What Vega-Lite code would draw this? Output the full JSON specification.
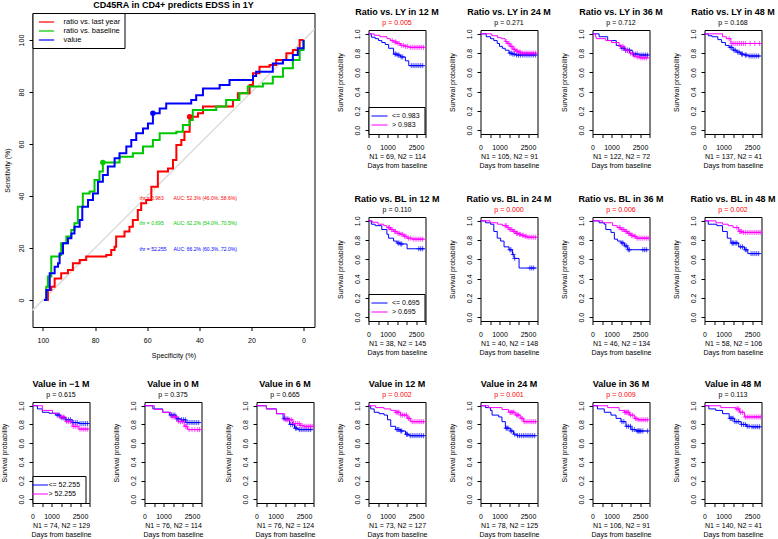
{
"$schema": "https://vega.github.io/schema/vega-lite/v6.json",
"background": "white",
"padding": {"left": -0.5, "top": 0, "right": 2, "bottom": 2},
"config": {
  "font": "Liberation Sans",
  "view": {"stroke": null},
  "axis": {"labelFontSize": 7, "titleFontSize": 7, "titleFontWeight": "normal", "grid": false, "domain": false, "ticks": true, "tickColor": "black", "tickSize": 3.5, "tickWidth": 1, "labelColor": "black", "titleColor": "black", "labelFlush": false, "labelOverlap": false},
  "axisX": {"labelPadding": 6, "titlePadding": 2, "titleLineHeight": 9.3, "labelBaseline": "top"},
  "axisY": {"labelAngle": 270, "labelAlign": "center", "labelBaseline": "bottom", "labelPadding": 5, "titlePadding": 10},
  "title": {"fontSize": 9, "fontWeight": "bold", "color": "black", "frame": "group", "anchor": "middle", "offset": 3, "subtitleFontSize": 7, "subtitleColor": "black", "subtitlePadding": 1.5},
  "legend": {"labelColor": "black", "labelFont": "Liberation Sans"}
},
"datasets": {
"roc": [
{"series":"ratio vs. last year","spec":98.7,"sens":0},{"series":"ratio vs. last year","spec":98.1,"sens":3.8},{"series":"ratio vs. last year","spec":96.8,"sens":5.1},{"series":"ratio vs. last year","spec":95.5,"sens":8.3},{"series":"ratio vs. last year","spec":93,"sens":10.3},{"series":"ratio vs. last year","spec":90.4,"sens":11.5},{"series":"ratio vs. last year","spec":88.5,"sens":14.1},{"series":"ratio vs. last year","spec":85.9,"sens":15.4},{"series":"ratio vs. last year","spec":83.4,"sens":16.7},{"series":"ratio vs. last year","spec":79.5,"sens":16.7},{"series":"ratio vs. last year","spec":75.7,"sens":17.3},{"series":"ratio vs. last year","spec":73.8,"sens":19.2},{"series":"ratio vs. last year","spec":72.5,"sens":20.5},{"series":"ratio vs. last year","spec":71.9,"sens":24.4},{"series":"ratio vs. last year","spec":68.7,"sens":26.3},{"series":"ratio vs. last year","spec":66.8,"sens":28.2},{"series":"ratio vs. last year","spec":65.5,"sens":30.8},{"series":"ratio vs. last year","spec":63.6,"sens":34.6},{"series":"ratio vs. last year","spec":62.3,"sens":37.2},{"series":"ratio vs. last year","spec":60.4,"sens":38.5},{"series":"ratio vs. last year","spec":58.4,"sens":43.6},{"series":"ratio vs. last year","spec":55.9,"sens":49.4},{"series":"ratio vs. last year","spec":52,"sens":50.6},{"series":"ratio vs. last year","spec":50.1,"sens":53.8},{"series":"ratio vs. last year","spec":48.8,"sens":59.6},{"series":"ratio vs. last year","spec":46.9,"sens":61.5},{"series":"ratio vs. last year","spec":45.7,"sens":64.7},{"series":"ratio vs. last year","spec":43.7,"sens":70.5},{"series":"ratio vs. last year","spec":40.5,"sens":71.8},{"series":"ratio vs. last year","spec":38.6,"sens":74.4},{"series":"ratio vs. last year","spec":29.7,"sens":74.4},{"series":"ratio vs. last year","spec":27.1,"sens":76.9},{"series":"ratio vs. last year","spec":25.2,"sens":79.5},{"series":"ratio vs. last year","spec":20.7,"sens":82.7},{"series":"ratio vs. last year","spec":19.4,"sens":87.2},{"series":"ratio vs. last year","spec":16.9,"sens":89.7},{"series":"ratio vs. last year","spec":13,"sens":90.4},{"series":"ratio vs. last year","spec":10.5,"sens":92.3},{"series":"ratio vs. last year","spec":6.6,"sens":94.9},{"series":"ratio vs. last year","spec":4.1,"sens":96.2},{"series":"ratio vs. last year","spec":1.5,"sens":100},{"series":"ratio vs. last year","spec":0,"sens":100},
{"series":"ratio vs. baseline","spec":99.6,"sens":0},{"series":"ratio vs. baseline","spec":98.7,"sens":5.1},{"series":"ratio vs. baseline","spec":98.1,"sens":9},{"series":"ratio vs. baseline","spec":96.8,"sens":16.7},{"series":"ratio vs. baseline","spec":93.6,"sens":17.3},{"series":"ratio vs. baseline","spec":93,"sens":21.8},{"series":"ratio vs. baseline","spec":91,"sens":24.4},{"series":"ratio vs. baseline","spec":89.1,"sens":26.9},{"series":"ratio vs. baseline","spec":87.9,"sens":29.5},{"series":"ratio vs. baseline","spec":86.6,"sens":35.9},{"series":"ratio vs. baseline","spec":84.7,"sens":41},{"series":"ratio vs. baseline","spec":82.1,"sens":41.7},{"series":"ratio vs. baseline","spec":80.2,"sens":46.2},{"series":"ratio vs. baseline","spec":78.3,"sens":49.4},{"series":"ratio vs. baseline","spec":77,"sens":52.9},{"series":"ratio vs. baseline","spec":71.9,"sens":52.9},{"series":"ratio vs. baseline","spec":70.6,"sens":55.1},{"series":"ratio vs. baseline","spec":65.5,"sens":56.4},{"series":"ratio vs. baseline","spec":61.6,"sens":59},{"series":"ratio vs. baseline","spec":57.8,"sens":61.5},{"series":"ratio vs. baseline","spec":55.2,"sens":64.1},{"series":"ratio vs. baseline","spec":48.8,"sens":64.7},{"series":"ratio vs. baseline","spec":46.3,"sens":67.3},{"series":"ratio vs. baseline","spec":43.7,"sens":69.2},{"series":"ratio vs. baseline","spec":42.5,"sens":73.1},{"series":"ratio vs. baseline","spec":33.5,"sens":74.4},{"series":"ratio vs. baseline","spec":29.7,"sens":76.9},{"series":"ratio vs. baseline","spec":24.6,"sens":79.5},{"series":"ratio vs. baseline","spec":21.4,"sens":82.1},{"series":"ratio vs. baseline","spec":15.6,"sens":83.3},{"series":"ratio vs. baseline","spec":11.8,"sens":85.9},{"series":"ratio vs. baseline","spec":7.9,"sens":89.1},{"series":"ratio vs. baseline","spec":4.1,"sens":92.3},{"series":"ratio vs. baseline","spec":1.5,"sens":96.2},{"series":"ratio vs. baseline","spec":0,"sens":100},
{"series":"value","spec":99.6,"sens":0},{"series":"value","spec":98.7,"sens":3.8},{"series":"value","spec":97.4,"sens":10.3},{"series":"value","spec":95.5,"sens":12.8},{"series":"value","spec":94.2,"sens":14.1},{"series":"value","spec":93.6,"sens":17.9},{"series":"value","spec":92.3,"sens":21.8},{"series":"value","spec":90.4,"sens":23.7},{"series":"value","spec":89.1,"sens":25.6},{"series":"value","spec":87.9,"sens":28.2},{"series":"value","spec":85.9,"sens":30.8},{"series":"value","spec":84.9,"sens":35.9},{"series":"value","spec":82.7,"sens":38.5},{"series":"value","spec":80.8,"sens":41},{"series":"value","spec":78.9,"sens":45.5},{"series":"value","spec":77,"sens":48.1},{"series":"value","spec":75.1,"sens":51.3},{"series":"value","spec":72.5,"sens":54.5},{"series":"value","spec":70.6,"sens":56.4},{"series":"value","spec":68,"sens":59},{"series":"value","spec":66.1,"sens":61.5},{"series":"value","spec":64.2,"sens":64.1},{"series":"value","spec":61.6,"sens":66},{"series":"value","spec":59.7,"sens":67.9},{"series":"value","spec":57.8,"sens":71.8},{"series":"value","spec":55.2,"sens":73.7},{"series":"value","spec":52.7,"sens":75.6},{"series":"value","spec":43.1,"sens":76.9},{"series":"value","spec":41.2,"sens":78.8},{"series":"value","spec":38.6,"sens":81.4},{"series":"value","spec":32.2,"sens":82.7},{"series":"value","spec":28.4,"sens":84.6},{"series":"value","spec":19.4,"sens":86.2},{"series":"value","spec":18.2,"sens":87.8},{"series":"value","spec":11.8,"sens":91},{"series":"value","spec":7.9,"sens":92.3},{"series":"value","spec":4.1,"sens":94.2},{"series":"value","spec":2.2,"sens":96.8},{"series":"value","spec":0,"sens":100}
],
"rocpts": [
{"series":"ratio vs. last year","spec":43.7,"sens":70.5},{"series":"ratio vs. baseline","spec":77,"sens":52.9},{"series":"value","spec":57.8,"sens":71.8}
],
"roctxt": [
{"series":"ratio vs. last year","spec":62.9,"sens":39.4,"label":"thr = 0.983"},{"series":"ratio vs. last year","spec":49.9,"sens":39.4,"label":"AUC: 52.3% (46.0%..58.6%)"},
{"series":"ratio vs. baseline","spec":62.9,"sens":29.5,"label":"thr = 0.695"},{"series":"ratio vs. baseline","spec":49.9,"sens":29.5,"label":"AUC: 62.2% (54.0%..70.5%)"},
{"series":"value","spec":62.9,"sens":19.6,"label":"thr = 52.255"},{"series":"value","spec":49.9,"sens":19.6,"label":"AUC: 66.2% (60.3%..72.0%)"}
],
"steps": [
{"p":"LY12","g":"lo","t":0,"s":1},{"p":"LY12","g":"lo","t":150,"s":0.965},{"p":"LY12","g":"lo","t":350,"s":0.95},{"p":"LY12","g":"lo","t":530,"s":0.93},{"p":"LY12","g":"lo","t":700,"s":0.91},{"p":"LY12","g":"lo","t":880,"s":0.89},{"p":"LY12","g":"lo","t":1060,"s":0.85},{"p":"LY12","g":"lo","t":1320,"s":0.79},{"p":"LY12","g":"lo","t":1500,"s":0.78},{"p":"LY12","g":"lo","t":1680,"s":0.76},{"p":"LY12","g":"lo","t":1940,"s":0.72},{"p":"LY12","g":"lo","t":2120,"s":0.67},{"p":"LY12","g":"lo","t":2950,"s":0.67},
{"p":"LY12","g":"hi","t":0,"s":1},{"p":"LY12","g":"hi","t":300,"s":0.985},{"p":"LY12","g":"hi","t":600,"s":0.97},{"p":"LY12","g":"hi","t":970,"s":0.95},{"p":"LY12","g":"hi","t":1150,"s":0.93},{"p":"LY12","g":"hi","t":1320,"s":0.915},{"p":"LY12","g":"hi","t":1500,"s":0.9},{"p":"LY12","g":"hi","t":1680,"s":0.88},{"p":"LY12","g":"hi","t":1900,"s":0.87},{"p":"LY12","g":"hi","t":2120,"s":0.86},{"p":"LY12","g":"hi","t":2950,"s":0.86},
{"p":"LY24","g":"lo","t":0,"s":1},{"p":"LY24","g":"lo","t":300,"s":0.97},{"p":"LY24","g":"lo","t":530,"s":0.95},{"p":"LY24","g":"lo","t":700,"s":0.93},{"p":"LY24","g":"lo","t":880,"s":0.9},{"p":"LY24","g":"lo","t":1000,"s":0.87},{"p":"LY24","g":"lo","t":1150,"s":0.85},{"p":"LY24","g":"lo","t":1300,"s":0.83},{"p":"LY24","g":"lo","t":1500,"s":0.8},{"p":"LY24","g":"lo","t":1650,"s":0.79},{"p":"LY24","g":"lo","t":1850,"s":0.78},{"p":"LY24","g":"lo","t":2950,"s":0.78},
{"p":"LY24","g":"hi","t":0,"s":1},{"p":"LY24","g":"hi","t":600,"s":0.98},{"p":"LY24","g":"hi","t":900,"s":0.96},{"p":"LY24","g":"hi","t":1100,"s":0.95},{"p":"LY24","g":"hi","t":1300,"s":0.92},{"p":"LY24","g":"hi","t":1400,"s":0.9},{"p":"LY24","g":"hi","t":1550,"s":0.87},{"p":"LY24","g":"hi","t":1700,"s":0.84},{"p":"LY24","g":"hi","t":1850,"s":0.82},{"p":"LY24","g":"hi","t":2000,"s":0.81},{"p":"LY24","g":"hi","t":2150,"s":0.8},{"p":"LY24","g":"hi","t":2950,"s":0.8},
{"p":"LY36","g":"lo","t":0,"s":1},{"p":"LY36","g":"lo","t":350,"s":0.97},{"p":"LY36","g":"lo","t":800,"s":0.93},{"p":"LY36","g":"lo","t":1250,"s":0.88},{"p":"LY36","g":"lo","t":1500,"s":0.85},{"p":"LY36","g":"lo","t":1700,"s":0.83},{"p":"LY36","g":"lo","t":2100,"s":0.79},{"p":"LY36","g":"lo","t":2450,"s":0.78},{"p":"LY36","g":"lo","t":2950,"s":0.78},
{"p":"LY36","g":"hi","t":0,"s":1},{"p":"LY36","g":"hi","t":150,"s":0.97},{"p":"LY36","g":"hi","t":200,"s":0.95},{"p":"LY36","g":"hi","t":700,"s":0.93},{"p":"LY36","g":"hi","t":1000,"s":0.91},{"p":"LY36","g":"hi","t":1400,"s":0.87},{"p":"LY36","g":"hi","t":1700,"s":0.83},{"p":"LY36","g":"hi","t":1950,"s":0.8},{"p":"LY36","g":"hi","t":2150,"s":0.77},{"p":"LY36","g":"hi","t":2300,"s":0.76},{"p":"LY36","g":"hi","t":2500,"s":0.75},{"p":"LY36","g":"hi","t":2950,"s":0.75},
{"p":"LY48","g":"lo","t":0,"s":1},{"p":"LY48","g":"lo","t":200,"s":0.98},{"p":"LY48","g":"lo","t":400,"s":0.97},{"p":"LY48","g":"lo","t":700,"s":0.94},{"p":"LY48","g":"lo","t":900,"s":0.91},{"p":"LY48","g":"lo","t":1100,"s":0.88},{"p":"LY48","g":"lo","t":1300,"s":0.86},{"p":"LY48","g":"lo","t":1500,"s":0.83},{"p":"LY48","g":"lo","t":1700,"s":0.81},{"p":"LY48","g":"lo","t":1900,"s":0.79},{"p":"LY48","g":"lo","t":2100,"s":0.78},{"p":"LY48","g":"lo","t":2300,"s":0.77},{"p":"LY48","g":"lo","t":2950,"s":0.77},
{"p":"LY48","g":"hi","t":0,"s":1},{"p":"LY48","g":"hi","t":950,"s":0.97},{"p":"LY48","g":"hi","t":1150,"s":0.95},{"p":"LY48","g":"hi","t":1390,"s":0.9},{"p":"LY48","g":"hi","t":2950,"s":0.9},
{"p":"BL12","g":"lo","t":0,"s":1},{"p":"BL12","g":"lo","t":150,"s":0.965},{"p":"BL12","g":"lo","t":350,"s":0.95},{"p":"BL12","g":"lo","t":700,"s":0.91},{"p":"BL12","g":"lo","t":970,"s":0.86},{"p":"BL12","g":"lo","t":1060,"s":0.82},{"p":"BL12","g":"lo","t":1320,"s":0.79},{"p":"BL12","g":"lo","t":1500,"s":0.77},{"p":"BL12","g":"lo","t":1650,"s":0.76},{"p":"BL12","g":"lo","t":2030,"s":0.71},{"p":"BL12","g":"lo","t":2950,"s":0.71},
{"p":"BL12","g":"hi","t":0,"s":1},{"p":"BL12","g":"hi","t":200,"s":0.985},{"p":"BL12","g":"hi","t":500,"s":0.965},{"p":"BL12","g":"hi","t":800,"s":0.95},{"p":"BL12","g":"hi","t":970,"s":0.93},{"p":"BL12","g":"hi","t":1150,"s":0.91},{"p":"BL12","g":"hi","t":1320,"s":0.89},{"p":"BL12","g":"hi","t":1500,"s":0.87},{"p":"BL12","g":"hi","t":1680,"s":0.86},{"p":"BL12","g":"hi","t":1850,"s":0.84},{"p":"BL12","g":"hi","t":2030,"s":0.82},{"p":"BL12","g":"hi","t":2300,"s":0.81},{"p":"BL12","g":"hi","t":2950,"s":0.81},
{"p":"BL24","g":"lo","t":0,"s":1},{"p":"BL24","g":"lo","t":270,"s":0.98},{"p":"BL24","g":"lo","t":530,"s":0.965},{"p":"BL24","g":"lo","t":700,"s":0.89},{"p":"BL24","g":"lo","t":880,"s":0.82},{"p":"BL24","g":"lo","t":1060,"s":0.79},{"p":"BL24","g":"lo","t":1240,"s":0.73},{"p":"BL24","g":"lo","t":1500,"s":0.7},{"p":"BL24","g":"lo","t":1680,"s":0.65},{"p":"BL24","g":"lo","t":1770,"s":0.61},{"p":"BL24","g":"lo","t":2030,"s":0.51},{"p":"BL24","g":"lo","t":2950,"s":0.51},
{"p":"BL24","g":"hi","t":0,"s":1},{"p":"BL24","g":"hi","t":500,"s":0.98},{"p":"BL24","g":"hi","t":900,"s":0.965},{"p":"BL24","g":"hi","t":1150,"s":0.95},{"p":"BL24","g":"hi","t":1400,"s":0.93},{"p":"BL24","g":"hi","t":1500,"s":0.91},{"p":"BL24","g":"hi","t":1700,"s":0.89},{"p":"BL24","g":"hi","t":1850,"s":0.87},{"p":"BL24","g":"hi","t":2000,"s":0.86},{"p":"BL24","g":"hi","t":2150,"s":0.85},{"p":"BL24","g":"hi","t":2300,"s":0.84},{"p":"BL24","g":"hi","t":2450,"s":0.83},{"p":"BL24","g":"hi","t":2950,"s":0.83},
{"p":"BL36","g":"lo","t":0,"s":1},{"p":"BL36","g":"lo","t":350,"s":0.98},{"p":"BL36","g":"lo","t":620,"s":0.965},{"p":"BL36","g":"lo","t":700,"s":0.91},{"p":"BL36","g":"lo","t":970,"s":0.88},{"p":"BL36","g":"lo","t":1150,"s":0.81},{"p":"BL36","g":"lo","t":1320,"s":0.79},{"p":"BL36","g":"lo","t":1500,"s":0.77},{"p":"BL36","g":"lo","t":1680,"s":0.74},{"p":"BL36","g":"lo","t":1850,"s":0.7},{"p":"BL36","g":"lo","t":2950,"s":0.7},
{"p":"BL36","g":"hi","t":0,"s":1},{"p":"BL36","g":"hi","t":530,"s":0.98},{"p":"BL36","g":"hi","t":1060,"s":0.95},{"p":"BL36","g":"hi","t":1300,"s":0.93},{"p":"BL36","g":"hi","t":1500,"s":0.91},{"p":"BL36","g":"hi","t":1700,"s":0.89},{"p":"BL36","g":"hi","t":1850,"s":0.87},{"p":"BL36","g":"hi","t":2000,"s":0.85},{"p":"BL36","g":"hi","t":2150,"s":0.84},{"p":"BL36","g":"hi","t":2300,"s":0.82},{"p":"BL36","g":"hi","t":2950,"s":0.82},
{"p":"BL48","g":"lo","t":0,"s":1},{"p":"BL48","g":"lo","t":200,"s":0.965},{"p":"BL48","g":"lo","t":650,"s":0.95},{"p":"BL48","g":"lo","t":950,"s":0.89},{"p":"BL48","g":"lo","t":1200,"s":0.82},{"p":"BL48","g":"lo","t":1390,"s":0.77},{"p":"BL48","g":"lo","t":1800,"s":0.73},{"p":"BL48","g":"lo","t":2100,"s":0.7},{"p":"BL48","g":"lo","t":2280,"s":0.66},{"p":"BL48","g":"lo","t":2950,"s":0.66},
{"p":"BL48","g":"hi","t":0,"s":1},{"p":"BL48","g":"hi","t":600,"s":0.98},{"p":"BL48","g":"hi","t":950,"s":0.965},{"p":"BL48","g":"hi","t":1250,"s":0.95},{"p":"BL48","g":"hi","t":1500,"s":0.93},{"p":"BL48","g":"hi","t":1800,"s":0.89},{"p":"BL48","g":"hi","t":2000,"s":0.88},{"p":"BL48","g":"hi","t":2950,"s":0.88},
{"p":"Vm1","g":"lo","t":0,"s":1},{"p":"Vm1","g":"lo","t":260,"s":0.966},{"p":"Vm1","g":"lo","t":520,"s":0.93},{"p":"Vm1","g":"lo","t":870,"s":0.92},{"p":"Vm1","g":"lo","t":1220,"s":0.9},{"p":"Vm1","g":"lo","t":1480,"s":0.87},{"p":"Vm1","g":"lo","t":1740,"s":0.85},{"p":"Vm1","g":"lo","t":2090,"s":0.82},{"p":"Vm1","g":"lo","t":2440,"s":0.81},{"p":"Vm1","g":"lo","t":2950,"s":0.81},
{"p":"Vm1","g":"hi","t":0,"s":1},{"p":"Vm1","g":"hi","t":520,"s":0.95},{"p":"Vm1","g":"hi","t":1050,"s":0.92},{"p":"Vm1","g":"hi","t":1400,"s":0.88},{"p":"Vm1","g":"hi","t":1740,"s":0.83},{"p":"Vm1","g":"hi","t":2090,"s":0.78},{"p":"Vm1","g":"hi","t":2440,"s":0.75},{"p":"Vm1","g":"hi","t":2950,"s":0.75},
{"p":"V0","g":"lo","t":0,"s":1},{"p":"V0","g":"lo","t":440,"s":0.966},{"p":"V0","g":"lo","t":960,"s":0.93},{"p":"V0","g":"lo","t":1310,"s":0.9},{"p":"V0","g":"lo","t":1660,"s":0.86},{"p":"V0","g":"lo","t":1920,"s":0.85},{"p":"V0","g":"lo","t":2180,"s":0.82},{"p":"V0","g":"lo","t":2950,"s":0.82},
{"p":"V0","g":"hi","t":0,"s":1},{"p":"V0","g":"hi","t":520,"s":0.96},{"p":"V0","g":"hi","t":960,"s":0.93},{"p":"V0","g":"hi","t":1400,"s":0.88},{"p":"V0","g":"hi","t":1750,"s":0.83},{"p":"V0","g":"hi","t":2090,"s":0.78},{"p":"V0","g":"hi","t":2270,"s":0.745},{"p":"V0","g":"hi","t":2950,"s":0.745},
{"p":"V6","g":"lo","t":0,"s":1},{"p":"V6","g":"lo","t":520,"s":0.966},{"p":"V6","g":"lo","t":1050,"s":0.915},{"p":"V6","g":"lo","t":1400,"s":0.86},{"p":"V6","g":"lo","t":1740,"s":0.8},{"p":"V6","g":"lo","t":2000,"s":0.76},{"p":"V6","g":"lo","t":2180,"s":0.745},{"p":"V6","g":"lo","t":2950,"s":0.745},
{"p":"V6","g":"hi","t":0,"s":1},{"p":"V6","g":"hi","t":520,"s":0.966},{"p":"V6","g":"hi","t":1050,"s":0.915},{"p":"V6","g":"hi","t":1480,"s":0.85},{"p":"V6","g":"hi","t":1920,"s":0.81},{"p":"V6","g":"hi","t":2270,"s":0.79},{"p":"V6","g":"hi","t":2500,"s":0.78},{"p":"V6","g":"hi","t":2950,"s":0.78},
{"p":"V12","g":"lo","t":0,"s":1},{"p":"V12","g":"lo","t":120,"s":0.966},{"p":"V12","g":"lo","t":300,"s":0.93},{"p":"V12","g":"lo","t":560,"s":0.915},{"p":"V12","g":"lo","t":820,"s":0.9},{"p":"V12","g":"lo","t":1000,"s":0.85},{"p":"V12","g":"lo","t":1170,"s":0.78},{"p":"V12","g":"lo","t":1430,"s":0.745},{"p":"V12","g":"lo","t":1690,"s":0.73},{"p":"V12","g":"lo","t":1950,"s":0.695},{"p":"V12","g":"lo","t":2130,"s":0.68},{"p":"V12","g":"lo","t":2950,"s":0.68},
{"p":"V12","g":"hi","t":0,"s":1},{"p":"V12","g":"hi","t":380,"s":0.98},{"p":"V12","g":"hi","t":820,"s":0.966},{"p":"V12","g":"hi","t":1170,"s":0.95},{"p":"V12","g":"hi","t":1430,"s":0.93},{"p":"V12","g":"hi","t":1690,"s":0.9},{"p":"V12","g":"hi","t":2040,"s":0.865},{"p":"V12","g":"hi","t":2220,"s":0.83},{"p":"V12","g":"hi","t":2950,"s":0.83},
{"p":"V24","g":"lo","t":0,"s":1},{"p":"V24","g":"lo","t":260,"s":0.98},{"p":"V24","g":"lo","t":520,"s":0.95},{"p":"V24","g":"lo","t":610,"s":0.9},{"p":"V24","g":"lo","t":960,"s":0.88},{"p":"V24","g":"lo","t":1130,"s":0.83},{"p":"V24","g":"lo","t":1310,"s":0.76},{"p":"V24","g":"lo","t":1570,"s":0.73},{"p":"V24","g":"lo","t":1740,"s":0.695},{"p":"V24","g":"lo","t":1920,"s":0.68},{"p":"V24","g":"lo","t":2950,"s":0.68},
{"p":"V24","g":"hi","t":0,"s":1},{"p":"V24","g":"hi","t":430,"s":0.98},{"p":"V24","g":"hi","t":1130,"s":0.96},{"p":"V24","g":"hi","t":1480,"s":0.93},{"p":"V24","g":"hi","t":1830,"s":0.9},{"p":"V24","g":"hi","t":2090,"s":0.865},{"p":"V24","g":"hi","t":2270,"s":0.83},{"p":"V24","g":"hi","t":2950,"s":0.83},
{"p":"V36","g":"lo","t":0,"s":1},{"p":"V36","g":"lo","t":260,"s":0.966},{"p":"V36","g":"lo","t":620,"s":0.93},{"p":"V36","g":"lo","t":970,"s":0.9},{"p":"V36","g":"lo","t":1240,"s":0.865},{"p":"V36","g":"lo","t":1500,"s":0.83},{"p":"V36","g":"lo","t":1760,"s":0.78},{"p":"V36","g":"lo","t":2030,"s":0.745},{"p":"V36","g":"lo","t":2300,"s":0.73},{"p":"V36","g":"lo","t":2950,"s":0.73},
{"p":"V36","g":"hi","t":0,"s":1},{"p":"V36","g":"hi","t":800,"s":0.98},{"p":"V36","g":"hi","t":1400,"s":0.95},{"p":"V36","g":"hi","t":1680,"s":0.93},{"p":"V36","g":"hi","t":1940,"s":0.9},{"p":"V36","g":"hi","t":2200,"s":0.865},{"p":"V36","g":"hi","t":2380,"s":0.85},{"p":"V36","g":"hi","t":2950,"s":0.85},
{"p":"V48","g":"lo","t":0,"s":1},{"p":"V48","g":"lo","t":230,"s":0.966},{"p":"V48","g":"lo","t":590,"s":0.95},{"p":"V48","g":"lo","t":950,"s":0.915},{"p":"V48","g":"lo","t":1300,"s":0.865},{"p":"V48","g":"lo","t":1570,"s":0.83},{"p":"V48","g":"lo","t":1930,"s":0.8},{"p":"V48","g":"lo","t":2200,"s":0.78},{"p":"V48","g":"lo","t":2450,"s":0.775},{"p":"V48","g":"lo","t":2950,"s":0.775},
{"p":"V48","g":"hi","t":0,"s":1},{"p":"V48","g":"hi","t":860,"s":0.98},{"p":"V48","g":"hi","t":1660,"s":0.966},{"p":"V48","g":"hi","t":1840,"s":0.93},{"p":"V48","g":"hi","t":2100,"s":0.88},{"p":"V48","g":"hi","t":2950,"s":0.88}
],
"cens": [
{"p":"LY12","g":"lo","t":1400,"s":0.79},{"p":"LY12","g":"lo","t":1450,"s":0.79},{"p":"LY12","g":"lo","t":1550,"s":0.78},{"p":"LY12","g":"lo","t":1600,"s":0.78},{"p":"LY12","g":"lo","t":1720,"s":0.76},{"p":"LY12","g":"lo","t":1800,"s":0.76},{"p":"LY12","g":"lo","t":2250,"s":0.67},{"p":"LY12","g":"lo","t":2350,"s":0.67},{"p":"LY12","g":"lo","t":2450,"s":0.67},{"p":"LY12","g":"lo","t":2550,"s":0.67},{"p":"LY12","g":"lo","t":2650,"s":0.67},{"p":"LY12","g":"lo","t":2750,"s":0.67},{"p":"LY12","g":"lo","t":2850,"s":0.67},
{"p":"LY12","g":"hi","t":1250,"s":0.93},{"p":"LY12","g":"hi","t":1400,"s":0.915},{"p":"LY12","g":"hi","t":1450,"s":0.915},{"p":"LY12","g":"hi","t":1550,"s":0.9},{"p":"LY12","g":"hi","t":1620,"s":0.9},{"p":"LY12","g":"hi","t":1750,"s":0.88},{"p":"LY12","g":"hi","t":1850,"s":0.88},{"p":"LY12","g":"hi","t":1950,"s":0.87},{"p":"LY12","g":"hi","t":2050,"s":0.87},{"p":"LY12","g":"hi","t":2200,"s":0.86},{"p":"LY12","g":"hi","t":2300,"s":0.86},{"p":"LY12","g":"hi","t":2400,"s":0.86},{"p":"LY12","g":"hi","t":2500,"s":0.86},{"p":"LY12","g":"hi","t":2600,"s":0.86},{"p":"LY12","g":"hi","t":2700,"s":0.86},{"p":"LY12","g":"hi","t":2800,"s":0.86},{"p":"LY12","g":"hi","t":2900,"s":0.86},
{"p":"LY24","g":"lo","t":1550,"s":0.8},{"p":"LY24","g":"lo","t":1620,"s":0.8},{"p":"LY24","g":"lo","t":1700,"s":0.79},{"p":"LY24","g":"lo","t":1780,"s":0.79},{"p":"LY24","g":"lo","t":1900,"s":0.78},{"p":"LY24","g":"lo","t":2000,"s":0.78},{"p":"LY24","g":"lo","t":2100,"s":0.78},{"p":"LY24","g":"lo","t":2200,"s":0.78},{"p":"LY24","g":"lo","t":2300,"s":0.78},{"p":"LY24","g":"lo","t":2400,"s":0.78},{"p":"LY24","g":"lo","t":2500,"s":0.78},{"p":"LY24","g":"lo","t":2600,"s":0.78},{"p":"LY24","g":"lo","t":2700,"s":0.78},{"p":"LY24","g":"lo","t":2800,"s":0.78},{"p":"LY24","g":"lo","t":2900,"s":0.78},
{"p":"LY24","g":"hi","t":1350,"s":0.92},{"p":"LY24","g":"hi","t":1450,"s":0.9},{"p":"LY24","g":"hi","t":1500,"s":0.9},{"p":"LY24","g":"hi","t":1600,"s":0.87},{"p":"LY24","g":"hi","t":1650,"s":0.87},{"p":"LY24","g":"hi","t":1750,"s":0.84},{"p":"LY24","g":"hi","t":1800,"s":0.84},{"p":"LY24","g":"hi","t":1900,"s":0.82},{"p":"LY24","g":"hi","t":1950,"s":0.82},{"p":"LY24","g":"hi","t":2050,"s":0.81},{"p":"LY24","g":"hi","t":2100,"s":0.81},{"p":"LY24","g":"hi","t":2200,"s":0.8},{"p":"LY24","g":"hi","t":2300,"s":0.8},{"p":"LY24","g":"hi","t":2400,"s":0.8},{"p":"LY24","g":"hi","t":2500,"s":0.8},{"p":"LY24","g":"hi","t":2600,"s":0.8},{"p":"LY24","g":"hi","t":2700,"s":0.8},{"p":"LY24","g":"hi","t":2800,"s":0.8},{"p":"LY24","g":"hi","t":2900,"s":0.8},
{"p":"LY36","g":"lo","t":1550,"s":0.85},{"p":"LY36","g":"lo","t":1650,"s":0.85},{"p":"LY36","g":"lo","t":1750,"s":0.83},{"p":"LY36","g":"lo","t":1850,"s":0.83},{"p":"LY36","g":"lo","t":1950,"s":0.83},{"p":"LY36","g":"lo","t":2150,"s":0.79},{"p":"LY36","g":"lo","t":2250,"s":0.79},{"p":"LY36","g":"lo","t":2350,"s":0.79},{"p":"LY36","g":"lo","t":2500,"s":0.78},{"p":"LY36","g":"lo","t":2600,"s":0.78},{"p":"LY36","g":"lo","t":2700,"s":0.78},{"p":"LY36","g":"lo","t":2800,"s":0.78},{"p":"LY36","g":"lo","t":2900,"s":0.78},
{"p":"LY36","g":"hi","t":1500,"s":0.87},{"p":"LY36","g":"hi","t":1600,"s":0.87},{"p":"LY36","g":"hi","t":1750,"s":0.83},{"p":"LY36","g":"hi","t":1850,"s":0.83},{"p":"LY36","g":"hi","t":2000,"s":0.8},{"p":"LY36","g":"hi","t":2100,"s":0.8},{"p":"LY36","g":"hi","t":2200,"s":0.77},{"p":"LY36","g":"hi","t":2350,"s":0.76},{"p":"LY36","g":"hi","t":2450,"s":0.76},{"p":"LY36","g":"hi","t":2550,"s":0.75},{"p":"LY36","g":"hi","t":2650,"s":0.75},{"p":"LY36","g":"hi","t":2750,"s":0.75},{"p":"LY36","g":"hi","t":2850,"s":0.75},
{"p":"LY48","g":"lo","t":1350,"s":0.86},{"p":"LY48","g":"lo","t":1420,"s":0.86},{"p":"LY48","g":"lo","t":1550,"s":0.83},{"p":"LY48","g":"lo","t":1620,"s":0.83},{"p":"LY48","g":"lo","t":1750,"s":0.81},{"p":"LY48","g":"lo","t":1820,"s":0.81},{"p":"LY48","g":"lo","t":1950,"s":0.79},{"p":"LY48","g":"lo","t":2000,"s":0.79},{"p":"LY48","g":"lo","t":2150,"s":0.78},{"p":"LY48","g":"lo","t":2200,"s":0.78},{"p":"LY48","g":"lo","t":2350,"s":0.77},{"p":"LY48","g":"lo","t":2450,"s":0.77},{"p":"LY48","g":"lo","t":2550,"s":0.77},{"p":"LY48","g":"lo","t":2650,"s":0.77},{"p":"LY48","g":"lo","t":2750,"s":0.77},{"p":"LY48","g":"lo","t":2850,"s":0.77},
{"p":"LY48","g":"hi","t":1300,"s":0.95},{"p":"LY48","g":"hi","t":1450,"s":0.9},{"p":"LY48","g":"hi","t":1550,"s":0.9},{"p":"LY48","g":"hi","t":1650,"s":0.9},{"p":"LY48","g":"hi","t":1750,"s":0.9},{"p":"LY48","g":"hi","t":1850,"s":0.9},{"p":"LY48","g":"hi","t":1950,"s":0.9},{"p":"LY48","g":"hi","t":2050,"s":0.9},{"p":"LY48","g":"hi","t":2150,"s":0.9},{"p":"LY48","g":"hi","t":2400,"s":0.9},{"p":"LY48","g":"hi","t":2650,"s":0.9},{"p":"LY48","g":"hi","t":2900,"s":0.9},
{"p":"BL12","g":"lo","t":1550,"s":0.77},{"p":"BL12","g":"lo","t":1600,"s":0.77},{"p":"BL12","g":"lo","t":1700,"s":0.76},{"p":"BL12","g":"lo","t":1750,"s":0.76},{"p":"BL12","g":"lo","t":2650,"s":0.71},{"p":"BL12","g":"lo","t":2750,"s":0.71},{"p":"BL12","g":"lo","t":2850,"s":0.71},
{"p":"BL12","g":"hi","t":1050,"s":0.93},{"p":"BL12","g":"hi","t":1100,"s":0.93},{"p":"BL12","g":"hi","t":1200,"s":0.91},{"p":"BL12","g":"hi","t":1250,"s":0.91},{"p":"BL12","g":"hi","t":1380,"s":0.89},{"p":"BL12","g":"hi","t":1420,"s":0.89},{"p":"BL12","g":"hi","t":1550,"s":0.87},{"p":"BL12","g":"hi","t":1620,"s":0.87},{"p":"BL12","g":"hi","t":1720,"s":0.86},{"p":"BL12","g":"hi","t":1800,"s":0.86},{"p":"BL12","g":"hi","t":1900,"s":0.84},{"p":"BL12","g":"hi","t":1970,"s":0.84},{"p":"BL12","g":"hi","t":2100,"s":0.82},{"p":"BL12","g":"hi","t":2200,"s":0.82},{"p":"BL12","g":"hi","t":2350,"s":0.81},{"p":"BL12","g":"hi","t":2450,"s":0.81},{"p":"BL12","g":"hi","t":2550,"s":0.81},{"p":"BL12","g":"hi","t":2650,"s":0.81},{"p":"BL12","g":"hi","t":2750,"s":0.81},{"p":"BL12","g":"hi","t":2850,"s":0.81},
{"p":"BL24","g":"lo","t":1550,"s":0.7},{"p":"BL24","g":"lo","t":1600,"s":0.7},{"p":"BL24","g":"lo","t":1720,"s":0.65},{"p":"BL24","g":"lo","t":1800,"s":0.61},{"p":"BL24","g":"lo","t":2600,"s":0.51},{"p":"BL24","g":"lo","t":2700,"s":0.51},{"p":"BL24","g":"lo","t":2800,"s":0.51},
{"p":"BL24","g":"hi","t":1300,"s":0.95},{"p":"BL24","g":"hi","t":1350,"s":0.95},{"p":"BL24","g":"hi","t":1450,"s":0.93},{"p":"BL24","g":"hi","t":1550,"s":0.91},{"p":"BL24","g":"hi","t":1600,"s":0.91},{"p":"BL24","g":"hi","t":1650,"s":0.91},{"p":"BL24","g":"hi","t":1750,"s":0.89},{"p":"BL24","g":"hi","t":1800,"s":0.89},{"p":"BL24","g":"hi","t":1900,"s":0.87},{"p":"BL24","g":"hi","t":1950,"s":0.87},{"p":"BL24","g":"hi","t":2050,"s":0.86},{"p":"BL24","g":"hi","t":2100,"s":0.86},{"p":"BL24","g":"hi","t":2200,"s":0.85},{"p":"BL24","g":"hi","t":2250,"s":0.85},{"p":"BL24","g":"hi","t":2350,"s":0.84},{"p":"BL24","g":"hi","t":2400,"s":0.84},{"p":"BL24","g":"hi","t":2500,"s":0.83},{"p":"BL24","g":"hi","t":2600,"s":0.83},{"p":"BL24","g":"hi","t":2700,"s":0.83},{"p":"BL24","g":"hi","t":2800,"s":0.83},{"p":"BL24","g":"hi","t":2900,"s":0.83},
{"p":"BL36","g":"lo","t":1550,"s":0.77},{"p":"BL36","g":"lo","t":1600,"s":0.77},{"p":"BL36","g":"lo","t":1720,"s":0.74},{"p":"BL36","g":"lo","t":1800,"s":0.74},{"p":"BL36","g":"lo","t":1880,"s":0.7},{"p":"BL36","g":"lo","t":1950,"s":0.7},{"p":"BL36","g":"lo","t":2650,"s":0.7},{"p":"BL36","g":"lo","t":2750,"s":0.7},{"p":"BL36","g":"lo","t":2850,"s":0.7},
{"p":"BL36","g":"hi","t":1400,"s":0.93},{"p":"BL36","g":"hi","t":1450,"s":0.93},{"p":"BL36","g":"hi","t":1550,"s":0.91},{"p":"BL36","g":"hi","t":1600,"s":0.91},{"p":"BL36","g":"hi","t":1650,"s":0.91},{"p":"BL36","g":"hi","t":1750,"s":0.89},{"p":"BL36","g":"hi","t":1800,"s":0.89},{"p":"BL36","g":"hi","t":1900,"s":0.87},{"p":"BL36","g":"hi","t":1950,"s":0.87},{"p":"BL36","g":"hi","t":2050,"s":0.85},{"p":"BL36","g":"hi","t":2100,"s":0.85},{"p":"BL36","g":"hi","t":2200,"s":0.84},{"p":"BL36","g":"hi","t":2250,"s":0.84},{"p":"BL36","g":"hi","t":2350,"s":0.82},{"p":"BL36","g":"hi","t":2450,"s":0.82},{"p":"BL36","g":"hi","t":2550,"s":0.82},{"p":"BL36","g":"hi","t":2650,"s":0.82},{"p":"BL36","g":"hi","t":2750,"s":0.82},{"p":"BL36","g":"hi","t":2850,"s":0.82},{"p":"BL36","g":"hi","t":2930,"s":0.82},
{"p":"BL48","g":"lo","t":1450,"s":0.77},{"p":"BL48","g":"lo","t":1500,"s":0.77},{"p":"BL48","g":"lo","t":1550,"s":0.77},{"p":"BL48","g":"lo","t":1650,"s":0.77},{"p":"BL48","g":"lo","t":1700,"s":0.77},{"p":"BL48","g":"lo","t":1900,"s":0.73},{"p":"BL48","g":"lo","t":2000,"s":0.73},{"p":"BL48","g":"lo","t":2150,"s":0.7},{"p":"BL48","g":"lo","t":2200,"s":0.7},{"p":"BL48","g":"lo","t":2450,"s":0.66},{"p":"BL48","g":"lo","t":2550,"s":0.66},{"p":"BL48","g":"lo","t":2650,"s":0.66},{"p":"BL48","g":"lo","t":2750,"s":0.66},{"p":"BL48","g":"lo","t":2850,"s":0.66},
{"p":"BL48","g":"hi","t":1700,"s":0.93},{"p":"BL48","g":"hi","t":1850,"s":0.89},{"p":"BL48","g":"hi","t":1900,"s":0.89},{"p":"BL48","g":"hi","t":1950,"s":0.89},{"p":"BL48","g":"hi","t":2050,"s":0.88},{"p":"BL48","g":"hi","t":2150,"s":0.88},{"p":"BL48","g":"hi","t":2250,"s":0.88},{"p":"BL48","g":"hi","t":2350,"s":0.88},{"p":"BL48","g":"hi","t":2450,"s":0.88},{"p":"BL48","g":"hi","t":2550,"s":0.88},{"p":"BL48","g":"hi","t":2650,"s":0.88},{"p":"BL48","g":"hi","t":2750,"s":0.88},{"p":"BL48","g":"hi","t":2850,"s":0.88},{"p":"BL48","g":"hi","t":2930,"s":0.88},
{"p":"Vm1","g":"lo","t":1300,"s":0.9},{"p":"Vm1","g":"lo","t":1400,"s":0.9},{"p":"Vm1","g":"lo","t":1550,"s":0.87},{"p":"Vm1","g":"lo","t":1650,"s":0.87},{"p":"Vm1","g":"lo","t":1800,"s":0.85},{"p":"Vm1","g":"lo","t":1900,"s":0.85},{"p":"Vm1","g":"lo","t":2000,"s":0.85},{"p":"Vm1","g":"lo","t":2150,"s":0.82},{"p":"Vm1","g":"lo","t":2250,"s":0.82},{"p":"Vm1","g":"lo","t":2350,"s":0.82},{"p":"Vm1","g":"lo","t":2500,"s":0.81},{"p":"Vm1","g":"lo","t":2600,"s":0.81},{"p":"Vm1","g":"lo","t":2700,"s":0.81},{"p":"Vm1","g":"lo","t":2800,"s":0.81},{"p":"Vm1","g":"lo","t":2900,"s":0.81},
{"p":"Vm1","g":"hi","t":1450,"s":0.88},{"p":"Vm1","g":"hi","t":1550,"s":0.88},{"p":"Vm1","g":"hi","t":1650,"s":0.88},{"p":"Vm1","g":"hi","t":1800,"s":0.83},{"p":"Vm1","g":"hi","t":1900,"s":0.83},{"p":"Vm1","g":"hi","t":2000,"s":0.83},{"p":"Vm1","g":"hi","t":2150,"s":0.78},{"p":"Vm1","g":"hi","t":2250,"s":0.78},{"p":"Vm1","g":"hi","t":2350,"s":0.78},{"p":"Vm1","g":"hi","t":2500,"s":0.75},{"p":"Vm1","g":"hi","t":2600,"s":0.75},{"p":"Vm1","g":"hi","t":2700,"s":0.75},{"p":"Vm1","g":"hi","t":2800,"s":0.75},{"p":"Vm1","g":"hi","t":2900,"s":0.75},
{"p":"V0","g":"lo","t":1400,"s":0.9},{"p":"V0","g":"lo","t":1500,"s":0.9},{"p":"V0","g":"lo","t":1600,"s":0.9},{"p":"V0","g":"lo","t":1700,"s":0.86},{"p":"V0","g":"lo","t":1800,"s":0.86},{"p":"V0","g":"lo","t":1950,"s":0.85},{"p":"V0","g":"lo","t":2050,"s":0.85},{"p":"V0","g":"lo","t":2150,"s":0.85},{"p":"V0","g":"lo","t":2250,"s":0.82},{"p":"V0","g":"lo","t":2350,"s":0.82},{"p":"V0","g":"lo","t":2450,"s":0.82},{"p":"V0","g":"lo","t":2550,"s":0.82},{"p":"V0","g":"lo","t":2650,"s":0.82},{"p":"V0","g":"lo","t":2750,"s":0.82},{"p":"V0","g":"lo","t":2850,"s":0.82},
{"p":"V0","g":"hi","t":1450,"s":0.88},{"p":"V0","g":"hi","t":1550,"s":0.88},{"p":"V0","g":"hi","t":1650,"s":0.88},{"p":"V0","g":"hi","t":1800,"s":0.83},{"p":"V0","g":"hi","t":1900,"s":0.83},{"p":"V0","g":"hi","t":2000,"s":0.83},{"p":"V0","g":"hi","t":2150,"s":0.78},{"p":"V0","g":"hi","t":2200,"s":0.78},{"p":"V0","g":"hi","t":2350,"s":0.745},{"p":"V0","g":"hi","t":2500,"s":0.745},{"p":"V0","g":"hi","t":2650,"s":0.745},{"p":"V0","g":"hi","t":2800,"s":0.745},{"p":"V0","g":"hi","t":2900,"s":0.745},
{"p":"V6","g":"lo","t":1450,"s":0.86},{"p":"V6","g":"lo","t":1550,"s":0.86},{"p":"V6","g":"lo","t":1650,"s":0.86},{"p":"V6","g":"lo","t":1800,"s":0.8},{"p":"V6","g":"lo","t":1900,"s":0.8},{"p":"V6","g":"lo","t":2050,"s":0.76},{"p":"V6","g":"lo","t":2100,"s":0.76},{"p":"V6","g":"lo","t":2250,"s":0.745},{"p":"V6","g":"lo","t":2350,"s":0.745},{"p":"V6","g":"lo","t":2450,"s":0.745},{"p":"V6","g":"lo","t":2550,"s":0.745},{"p":"V6","g":"lo","t":2650,"s":0.745},{"p":"V6","g":"lo","t":2750,"s":0.745},{"p":"V6","g":"lo","t":2850,"s":0.745},
{"p":"V6","g":"hi","t":1550,"s":0.85},{"p":"V6","g":"hi","t":1650,"s":0.85},{"p":"V6","g":"hi","t":1750,"s":0.85},{"p":"V6","g":"hi","t":1850,"s":0.85},{"p":"V6","g":"hi","t":1950,"s":0.81},{"p":"V6","g":"hi","t":2050,"s":0.81},{"p":"V6","g":"hi","t":2150,"s":0.81},{"p":"V6","g":"hi","t":2250,"s":0.81},{"p":"V6","g":"hi","t":2300,"s":0.79},{"p":"V6","g":"hi","t":2400,"s":0.79},{"p":"V6","g":"hi","t":2550,"s":0.78},{"p":"V6","g":"hi","t":2650,"s":0.78},{"p":"V6","g":"hi","t":2750,"s":0.78},{"p":"V6","g":"hi","t":2850,"s":0.78},{"p":"V6","g":"hi","t":2930,"s":0.78},
{"p":"V12","g":"lo","t":1500,"s":0.745},{"p":"V12","g":"lo","t":1550,"s":0.745},{"p":"V12","g":"lo","t":1600,"s":0.745},{"p":"V12","g":"lo","t":1700,"s":0.73},{"p":"V12","g":"lo","t":1750,"s":0.73},{"p":"V12","g":"lo","t":2000,"s":0.695},{"p":"V12","g":"lo","t":2050,"s":0.695},{"p":"V12","g":"lo","t":2200,"s":0.68},{"p":"V12","g":"lo","t":2300,"s":0.68},{"p":"V12","g":"lo","t":2400,"s":0.68},{"p":"V12","g":"lo","t":2500,"s":0.68},{"p":"V12","g":"lo","t":2600,"s":0.68},{"p":"V12","g":"lo","t":2700,"s":0.68},{"p":"V12","g":"lo","t":2800,"s":0.68},{"p":"V12","g":"lo","t":2900,"s":0.68},
{"p":"V12","g":"hi","t":1450,"s":0.93},{"p":"V12","g":"hi","t":1500,"s":0.93},{"p":"V12","g":"hi","t":1550,"s":0.93},{"p":"V12","g":"hi","t":1600,"s":0.93},{"p":"V12","g":"hi","t":1700,"s":0.9},{"p":"V12","g":"hi","t":1800,"s":0.9},{"p":"V12","g":"hi","t":1900,"s":0.9},{"p":"V12","g":"hi","t":2000,"s":0.9},{"p":"V12","g":"hi","t":2100,"s":0.865},{"p":"V12","g":"hi","t":2150,"s":0.865},{"p":"V12","g":"hi","t":2300,"s":0.83},{"p":"V12","g":"hi","t":2400,"s":0.83},{"p":"V12","g":"hi","t":2500,"s":0.83},{"p":"V12","g":"hi","t":2600,"s":0.83},{"p":"V12","g":"hi","t":2700,"s":0.83},{"p":"V12","g":"hi","t":2800,"s":0.83},{"p":"V12","g":"hi","t":2900,"s":0.83},
{"p":"V24","g":"lo","t":1350,"s":0.76},{"p":"V24","g":"lo","t":1400,"s":0.76},{"p":"V24","g":"lo","t":1450,"s":0.76},{"p":"V24","g":"lo","t":1600,"s":0.73},{"p":"V24","g":"lo","t":1650,"s":0.73},{"p":"V24","g":"lo","t":1800,"s":0.695},{"p":"V24","g":"lo","t":1950,"s":0.68},{"p":"V24","g":"lo","t":2050,"s":0.68},{"p":"V24","g":"lo","t":2150,"s":0.68},{"p":"V24","g":"lo","t":2250,"s":0.68},{"p":"V24","g":"lo","t":2350,"s":0.68},{"p":"V24","g":"lo","t":2450,"s":0.68},{"p":"V24","g":"lo","t":2550,"s":0.68},{"p":"V24","g":"lo","t":2650,"s":0.68},{"p":"V24","g":"lo","t":2750,"s":0.68},{"p":"V24","g":"lo","t":2850,"s":0.68},
{"p":"V24","g":"hi","t":1550,"s":0.93},{"p":"V24","g":"hi","t":1600,"s":0.93},{"p":"V24","g":"hi","t":1650,"s":0.93},{"p":"V24","g":"hi","t":1700,"s":0.93},{"p":"V24","g":"hi","t":1750,"s":0.93},{"p":"V24","g":"hi","t":1900,"s":0.9},{"p":"V24","g":"hi","t":1950,"s":0.9},{"p":"V24","g":"hi","t":2000,"s":0.9},{"p":"V24","g":"hi","t":2150,"s":0.865},{"p":"V24","g":"hi","t":2200,"s":0.865},{"p":"V24","g":"hi","t":2300,"s":0.83},{"p":"V24","g":"hi","t":2400,"s":0.83},{"p":"V24","g":"hi","t":2500,"s":0.83},{"p":"V24","g":"hi","t":2600,"s":0.83},{"p":"V24","g":"hi","t":2700,"s":0.83},{"p":"V24","g":"hi","t":2800,"s":0.83},{"p":"V24","g":"hi","t":2900,"s":0.83},
{"p":"V36","g":"lo","t":1550,"s":0.83},{"p":"V36","g":"lo","t":1650,"s":0.83},{"p":"V36","g":"lo","t":1800,"s":0.78},{"p":"V36","g":"lo","t":1900,"s":0.78},{"p":"V36","g":"lo","t":2000,"s":0.78},{"p":"V36","g":"lo","t":2100,"s":0.745},{"p":"V36","g":"lo","t":2200,"s":0.745},{"p":"V36","g":"lo","t":2350,"s":0.73},{"p":"V36","g":"lo","t":2400,"s":0.73},{"p":"V36","g":"lo","t":2450,"s":0.73},{"p":"V36","g":"lo","t":2500,"s":0.73},{"p":"V36","g":"lo","t":2550,"s":0.73},{"p":"V36","g":"lo","t":2650,"s":0.73},{"p":"V36","g":"lo","t":2900,"s":0.73},
{"p":"V36","g":"hi","t":1700,"s":0.93},{"p":"V36","g":"hi","t":1750,"s":0.93},{"p":"V36","g":"hi","t":1800,"s":0.93},{"p":"V36","g":"hi","t":1850,"s":0.93},{"p":"V36","g":"hi","t":1900,"s":0.93},{"p":"V36","g":"hi","t":2000,"s":0.9},{"p":"V36","g":"hi","t":2100,"s":0.9},{"p":"V36","g":"hi","t":2250,"s":0.865},{"p":"V36","g":"hi","t":2300,"s":0.865},{"p":"V36","g":"hi","t":2400,"s":0.85},{"p":"V36","g":"hi","t":2500,"s":0.85},{"p":"V36","g":"hi","t":2600,"s":0.85},{"p":"V36","g":"hi","t":2700,"s":0.85},{"p":"V36","g":"hi","t":2800,"s":0.85},{"p":"V36","g":"hi","t":2900,"s":0.85},
{"p":"V48","g":"lo","t":1350,"s":0.865},{"p":"V48","g":"lo","t":1400,"s":0.865},{"p":"V48","g":"lo","t":1450,"s":0.865},{"p":"V48","g":"lo","t":1500,"s":0.865},{"p":"V48","g":"lo","t":1600,"s":0.83},{"p":"V48","g":"lo","t":1700,"s":0.83},{"p":"V48","g":"lo","t":1800,"s":0.83},{"p":"V48","g":"lo","t":1950,"s":0.8},{"p":"V48","g":"lo","t":2050,"s":0.8},{"p":"V48","g":"lo","t":2150,"s":0.8},{"p":"V48","g":"lo","t":2250,"s":0.78},{"p":"V48","g":"lo","t":2350,"s":0.78},{"p":"V48","g":"lo","t":2500,"s":0.775},{"p":"V48","g":"lo","t":2600,"s":0.775},{"p":"V48","g":"lo","t":2700,"s":0.775},{"p":"V48","g":"lo","t":2800,"s":0.775},{"p":"V48","g":"lo","t":2900,"s":0.775},
{"p":"V48","g":"hi","t":1700,"s":0.966},{"p":"V48","g":"hi","t":1750,"s":0.966},{"p":"V48","g":"hi","t":1800,"s":0.966},{"p":"V48","g":"hi","t":1900,"s":0.93},{"p":"V48","g":"hi","t":2000,"s":0.93},{"p":"V48","g":"hi","t":2150,"s":0.88},{"p":"V48","g":"hi","t":2250,"s":0.88},{"p":"V48","g":"hi","t":2350,"s":0.88},{"p":"V48","g":"hi","t":2450,"s":0.88},{"p":"V48","g":"hi","t":2550,"s":0.88},{"p":"V48","g":"hi","t":2650,"s":0.88},{"p":"V48","g":"hi","t":2750,"s":0.88},{"p":"V48","g":"hi","t":2850,"s":0.88},{"p":"V48","g":"hi","t":2930,"s":0.88}
]
},
"bounds": "flush",
"spacing": 389,
"resolve": {"scale": {"stroke": "independent", "color": "independent"}, "legend": {"stroke": "independent", "color": "independent"}},
"vconcat": [
{
 "bounds": "flush",
 "spacing": 54,
 "resolve": {"scale": {"stroke": "independent", "color": "independent"}, "legend": {"stroke": "independent", "color": "independent"}},
 "hconcat": [
  {
   "width": 282, "height": 314,
   "view": {"stroke": "black"},
   "title": {"text": "CD45RA in CD4+ predicts EDSS in 1Y", "offset": 3},
   "encoding": {
     "x": {"field": "spec", "type": "quantitative", "scale": {"domain": [-4.2, 104], "reverse": true, "nice": false, "zero": false}, "axis": {"values": [0,20,40,60,80,100], "format": "d", "title": "Specificity (%)", "titlePadding": 7.5}},
     "y": {"field": "sens", "type": "quantitative", "scale": {"domain": [-10.4, 110.4], "nice": false, "zero": false}, "axis": {"values": [0,20,40,60,80,100], "format": "d", "title": "Sensitivity (%)", "titlePadding": 7}}
   },
   "layer": [
     {"data": {"values": [{"spec": 104, "sens": -4}, {"spec": -4.2, "sens": 104.2}]}, "mark": {"type": "line", "color": "#DCDCDC", "strokeWidth": 1.5}},
     {"data": {"name": "roc"}, "mark": {"type": "line", "interpolate": "step-after", "strokeWidth": 2},
      "encoding": {"stroke": {"field": "series", "type": "nominal", "scale": {"domain": ["ratio vs. last year", "ratio vs. baseline", "value"], "range": ["#FF0000", "#00C800", "#0000FF"]},
        "legend": {"orient": "top-left", "offset": 0, "title": null, "strokeColor": "black", "fillColor": "white", "padding": 4, "rowPadding": 0, "symbolType": "M-1.9,0H1.9", "symbolSize": 64, "symbolStrokeWidth": 2, "symbolOpacity": 0.6, "symbolOffset": 5, "labelOffset": 12, "labelFontSize": 7.5, "cornerRadius": 0}}}},
     {"data": {"name": "rocpts"}, "mark": {"type": "circle", "size": 30, "opacity": 1},
      "encoding": {"color": {"field": "series", "type": "nominal", "scale": {"domain": ["ratio vs. last year", "ratio vs. baseline", "value"], "range": ["#FF0000", "#00C800", "#0000FF"]}, "legend": null}}},
     {"data": {"name": "roctxt"}, "mark": {"type": "text", "align": "left", "baseline": "middle", "fontSize": 5},
      "encoding": {"text": {"field": "label"}, "color": {"field": "series", "type": "nominal", "scale": {"domain": ["ratio vs. last year", "ratio vs. baseline", "value"], "range": ["#FF0000", "#00C800", "#0000FF"]}, "legend": null}}}
   ]
  },
  {
   "bounds": "flush",
   "spacing": 16,
   "resolve": {"scale": {"stroke": "independent", "color": "independent"}, "legend": {"stroke": "independent", "color": "independent"}},
   "vconcat": [
    {"width": 1, "height": 1, "data": {"values": []}, "mark": {"type": "point", "opacity": 0}},
    {
     "bounds": "flush",
     "spacing": 187,
     "resolve": {"scale": {"stroke": "independent", "color": "independent"}, "legend": {"stroke": "independent", "color": "independent"}},
     "vconcat": [
      {
       "bounds": "flush",
       "spacing": 55,
       "resolve": {"scale": {"stroke": "independent", "color": "independent"}, "legend": {"stroke": "independent", "color": "independent"}},
       "hconcat": [
        {"width":57,"height":104,"view":{"stroke":"black"},
         "title":{"text":"Ratio vs. LY in 12 M","subtitle":"p = 0.005","subtitleColor":"#FF0000"},
         "encoding":{
          "x":{"field":"t","type":"quantitative","scale":{"domain":[0,3000],"nice":false},"axis":{"values":[0,500,1000,1500,2000,2500,3000],"format":"d","labelExpr":"indexof([0,1000,2500], datum.value) >= 0 ? datum.label : ''","title":["N1 = 69, N2 = 114","Days from baseline"]}},
          "y":{"field":"s","type":"quantitative","scale":{"domain":[-0.04,1.04],"nice":false},"axis":{"values":[0,0.2,0.4,0.6,0.8,1],"format":".1f","title":"Survival probability"}},
          "stroke":{"field":"g","type":"nominal","scale":{"domain":["lo","hi"],"range":["#0000FF","#FF00FF"]},
            "legend":{"orient":"bottom-left","offset":0,"title":null,"strokeColor":"black","fillColor":"white","padding":4.5,"rowPadding":0,"symbolType":"M-2.3,0H2.3","symbolSize":49,"symbolStrokeWidth":2,"symbolOpacity":0.5,"symbolOffset":2,"labelOffset":8,"labelFontSize":7,"labelExpr":"datum.value == 'lo' ? '<= 0.983' : '> 0.983'","cornerRadius":0}}},
         "layer":[
          {"data":{"name":"steps"},"transform":[{"filter":"datum.p == 'LY12'"}],"mark":{"type":"line","interpolate":"step-after","strokeWidth":1}},
          {"data":{"name":"cens"},"transform":[{"filter":"datum.p == 'LY12'"}],"mark":{"type":"point","shape":"M-1,0H1M0,-1V1","filled":false,"size":25,"strokeWidth":1}}]},
        {"width":57,"height":104,"view":{"stroke":"black"},
         "title":{"text":"Ratio vs. LY in 24 M","subtitle":"p = 0.271"},
         "encoding":{
          "x":{"field":"t","type":"quantitative","scale":{"domain":[0,3000],"nice":false},"axis":{"values":[0,500,1000,1500,2000,2500,3000],"format":"d","labelExpr":"indexof([0,1000,2500], datum.value) >= 0 ? datum.label : ''","title":["N1 = 105, N2 = 91","Days from baseline"]}},
          "y":{"field":"s","type":"quantitative","scale":{"domain":[-0.04,1.04],"nice":false},"axis":{"values":[0,0.2,0.4,0.6,0.8,1],"format":".1f","title":"Survival probability"}},
          "stroke":{"field":"g","type":"nominal","scale":{"domain":["lo","hi"],"range":["#0000FF","#FF00FF"]},"legend":null}},
         "layer":[
          {"data":{"name":"steps"},"transform":[{"filter":"datum.p == 'LY24'"}],"mark":{"type":"line","interpolate":"step-after","strokeWidth":1}},
          {"data":{"name":"cens"},"transform":[{"filter":"datum.p == 'LY24'"}],"mark":{"type":"point","shape":"M-1,0H1M0,-1V1","filled":false,"size":25,"strokeWidth":1}}]},
        {"width":57,"height":104,"view":{"stroke":"black"},
         "title":{"text":"Ratio vs. LY in 36 M","subtitle":"p = 0.712"},
         "encoding":{
          "x":{"field":"t","type":"quantitative","scale":{"domain":[0,3000],"nice":false},"axis":{"values":[0,500,1000,1500,2000,2500,3000],"format":"d","labelExpr":"indexof([0,1000,2500], datum.value) >= 0 ? datum.label : ''","title":["N1 = 122, N2 = 72","Days from baseline"]}},
          "y":{"field":"s","type":"quantitative","scale":{"domain":[-0.04,1.04],"nice":false},"axis":{"values":[0,0.2,0.4,0.6,0.8,1],"format":".1f","title":"Survival probability"}},
          "stroke":{"field":"g","type":"nominal","scale":{"domain":["lo","hi"],"range":["#0000FF","#FF00FF"]},"legend":null}},
         "layer":[
          {"data":{"name":"steps"},"transform":[{"filter":"datum.p == 'LY36'"}],"mark":{"type":"line","interpolate":"step-after","strokeWidth":1}},
          {"data":{"name":"cens"},"transform":[{"filter":"datum.p == 'LY36'"}],"mark":{"type":"point","shape":"M-1,0H1M0,-1V1","filled":false,"size":25,"strokeWidth":1}}]},
        {"width":57,"height":104,"view":{"stroke":"black"},
         "title":{"text":"Ratio vs. LY in 48 M","subtitle":"p = 0.168"},
         "encoding":{
          "x":{"field":"t","type":"quantitative","scale":{"domain":[0,3000],"nice":false},"axis":{"values":[0,500,1000,1500,2000,2500,3000],"format":"d","labelExpr":"indexof([0,1000,2500], datum.value) >= 0 ? datum.label : ''","title":["N1 = 137, N2 = 41","Days from baseline"]}},
          "y":{"field":"s","type":"quantitative","scale":{"domain":[-0.04,1.04],"nice":false},"axis":{"values":[0,0.2,0.4,0.6,0.8,1],"format":".1f","title":"Survival probability"}},
          "stroke":{"field":"g","type":"nominal","scale":{"domain":["lo","hi"],"range":["#0000FF","#FF00FF"]},"legend":null}},
         "layer":[
          {"data":{"name":"steps"},"transform":[{"filter":"datum.p == 'LY48'"}],"mark":{"type":"line","interpolate":"step-after","strokeWidth":1}},
          {"data":{"name":"cens"},"transform":[{"filter":"datum.p == 'LY48'"}],"mark":{"type":"point","shape":"M-1,0H1M0,-1V1","filled":false,"size":25,"strokeWidth":1}}]}
       ]
      },
      {
       "bounds": "flush",
       "spacing": 55,
       "resolve": {"scale": {"stroke": "independent", "color": "independent"}, "legend": {"stroke": "independent", "color": "independent"}},
       "hconcat": [
        {"width":57,"height":104,"view":{"stroke":"black"},
         "title":{"text":"Ratio vs. BL in 12 M","subtitle":"p = 0.110"},
         "encoding":{
          "x":{"field":"t","type":"quantitative","scale":{"domain":[0,3000],"nice":false},"axis":{"values":[0,500,1000,1500,2000,2500,3000],"format":"d","labelExpr":"indexof([0,1000,2500], datum.value) >= 0 ? datum.label : ''","title":["N1 = 38, N2 = 145","Days from baseline"]}},
          "y":{"field":"s","type":"quantitative","scale":{"domain":[-0.04,1.04],"nice":false},"axis":{"values":[0,0.2,0.4,0.6,0.8,1],"format":".1f","title":"Survival probability"}},
          "stroke":{"field":"g","type":"nominal","scale":{"domain":["lo","hi"],"range":["#0000FF","#FF00FF"]},
            "legend":{"orient":"bottom-left","offset":0,"title":null,"strokeColor":"black","fillColor":"white","padding":4.5,"rowPadding":0,"symbolType":"M-2.3,0H2.3","symbolSize":49,"symbolStrokeWidth":2,"symbolOpacity":0.5,"symbolOffset":2,"labelOffset":8,"labelFontSize":7,"labelExpr":"datum.value == 'lo' ? '<= 0.695' : '> 0.695'","cornerRadius":0}}},
         "layer":[
          {"data":{"name":"steps"},"transform":[{"filter":"datum.p == 'BL12'"}],"mark":{"type":"line","interpolate":"step-after","strokeWidth":1}},
          {"data":{"name":"cens"},"transform":[{"filter":"datum.p == 'BL12'"}],"mark":{"type":"point","shape":"M-1,0H1M0,-1V1","filled":false,"size":25,"strokeWidth":1}}]},
        {"width":57,"height":104,"view":{"stroke":"black"},
         "title":{"text":"Ratio vs. BL in 24 M","subtitle":"p = 0.000","subtitleColor":"#FF0000"},
         "encoding":{
          "x":{"field":"t","type":"quantitative","scale":{"domain":[0,3000],"nice":false},"axis":{"values":[0,500,1000,1500,2000,2500,3000],"format":"d","labelExpr":"indexof([0,1000,2500], datum.value) >= 0 ? datum.label : ''","title":["N1 = 40, N2 = 148","Days from baseline"]}},
          "y":{"field":"s","type":"quantitative","scale":{"domain":[-0.04,1.04],"nice":false},"axis":{"values":[0,0.2,0.4,0.6,0.8,1],"format":".1f","title":"Survival probability"}},
          "stroke":{"field":"g","type":"nominal","scale":{"domain":["lo","hi"],"range":["#0000FF","#FF00FF"]},"legend":null}},
         "layer":[
          {"data":{"name":"steps"},"transform":[{"filter":"datum.p == 'BL24'"}],"mark":{"type":"line","interpolate":"step-after","strokeWidth":1}},
          {"data":{"name":"cens"},"transform":[{"filter":"datum.p == 'BL24'"}],"mark":{"type":"point","shape":"M-1,0H1M0,-1V1","filled":false,"size":25,"strokeWidth":1}}]},
        {"width":57,"height":104,"view":{"stroke":"black"},
         "title":{"text":"Ratio vs. BL in 36 M","subtitle":"p = 0.006","subtitleColor":"#FF0000"},
         "encoding":{
          "x":{"field":"t","type":"quantitative","scale":{"domain":[0,3000],"nice":false},"axis":{"values":[0,500,1000,1500,2000,2500,3000],"format":"d","labelExpr":"indexof([0,1000,2500], datum.value) >= 0 ? datum.label : ''","title":["N1 = 46, N2 = 134","Days from baseline"]}},
          "y":{"field":"s","type":"quantitative","scale":{"domain":[-0.04,1.04],"nice":false},"axis":{"values":[0,0.2,0.4,0.6,0.8,1],"format":".1f","title":"Survival probability"}},
          "stroke":{"field":"g","type":"nominal","scale":{"domain":["lo","hi"],"range":["#0000FF","#FF00FF"]},"legend":null}},
         "layer":[
          {"data":{"name":"steps"},"transform":[{"filter":"datum.p == 'BL36'"}],"mark":{"type":"line","interpolate":"step-after","strokeWidth":1}},
          {"data":{"name":"cens"},"transform":[{"filter":"datum.p == 'BL36'"}],"mark":{"type":"point","shape":"M-1,0H1M0,-1V1","filled":false,"size":25,"strokeWidth":1}}]},
        {"width":57,"height":104,"view":{"stroke":"black"},
         "title":{"text":"Ratio vs. BL in 48 M","subtitle":"p = 0.002","subtitleColor":"#FF0000"},
         "encoding":{
          "x":{"field":"t","type":"quantitative","scale":{"domain":[0,3000],"nice":false},"axis":{"values":[0,500,1000,1500,2000,2500,3000],"format":"d","labelExpr":"indexof([0,1000,2500], datum.value) >= 0 ? datum.label : ''","title":["N1 = 58, N2 = 106","Days from baseline"]}},
          "y":{"field":"s","type":"quantitative","scale":{"domain":[-0.04,1.04],"nice":false},"axis":{"values":[0,0.2,0.4,0.6,0.8,1],"format":".1f","title":"Survival probability"}},
          "stroke":{"field":"g","type":"nominal","scale":{"domain":["lo","hi"],"range":["#0000FF","#FF00FF"]},"legend":null}},
         "layer":[
          {"data":{"name":"steps"},"transform":[{"filter":"datum.p == 'BL48'"}],"mark":{"type":"line","interpolate":"step-after","strokeWidth":1}},
          {"data":{"name":"cens"},"transform":[{"filter":"datum.p == 'BL48'"}],"mark":{"type":"point","shape":"M-1,0H1M0,-1V1","filled":false,"size":25,"strokeWidth":1}}]}
       ]
      }
     ]
    }
   ]
  }
 ]
},
{
 "bounds": "flush",
 "spacing": 55,
 "resolve": {"scale": {"stroke": "independent", "color": "independent"}, "legend": {"stroke": "independent", "color": "independent"}},
 "hconcat": [
  {"width":57,"height":101,"view":{"stroke":"black"},
   "title":{"text":"Value in −1 M","subtitle":"p = 0.615"},
   "encoding":{
    "x":{"field":"t","type":"quantitative","scale":{"domain":[0,3000],"nice":false},"axis":{"values":[0,500,1000,1500,2000,2500,3000],"format":"d","labelExpr":"indexof([0,1000,2500], datum.value) >= 0 ? datum.label : ''","title":["N1 = 74, N2 = 129","Days from baseline"]}},
    "y":{"field":"s","type":"quantitative","scale":{"domain":[-0.04,1.04],"nice":false},"axis":{"values":[0,0.2,0.4,0.6,0.8,1],"format":".1f","title":"Survival probability"}},
    "stroke":{"field":"g","type":"nominal","scale":{"domain":["lo","hi"],"range":["#0000FF","#FF00FF"]},
      "legend":{"orient":"bottom-left","offset":0,"title":null,"strokeColor":"black","fillColor":"white","padding":4.5,"rowPadding":0,"symbolType":"M-2.3,0H2.3","symbolSize":49,"symbolStrokeWidth":2,"symbolOpacity":0.5,"symbolOffset":-1.5,"labelOffset":4,"labelFontSize":7,"labelExpr":"datum.value == 'lo' ? '<= 52.255' : '> 52.255'","cornerRadius":0}}},
   "layer":[
    {"data":{"name":"steps"},"transform":[{"filter":"datum.p == 'Vm1'"}],"mark":{"type":"line","interpolate":"step-after","strokeWidth":1}},
    {"data":{"name":"cens"},"transform":[{"filter":"datum.p == 'Vm1'"}],"mark":{"type":"point","shape":"M-1,0H1M0,-1V1","filled":false,"size":25,"strokeWidth":1}}]},
  {"width":57,"height":101,"view":{"stroke":"black"},
   "title":{"text":"Value in 0 M","subtitle":"p = 0.375"},
   "encoding":{
    "x":{"field":"t","type":"quantitative","scale":{"domain":[0,3000],"nice":false},"axis":{"values":[0,500,1000,1500,2000,2500,3000],"format":"d","labelExpr":"indexof([0,1000,2500], datum.value) >= 0 ? datum.label : ''","title":["N1 = 76, N2 = 114","Days from baseline"]}},
    "y":{"field":"s","type":"quantitative","scale":{"domain":[-0.04,1.04],"nice":false},"axis":{"values":[0,0.2,0.4,0.6,0.8,1],"format":".1f","title":"Survival probability"}},
    "stroke":{"field":"g","type":"nominal","scale":{"domain":["lo","hi"],"range":["#0000FF","#FF00FF"]},"legend":null}},
   "layer":[
    {"data":{"name":"steps"},"transform":[{"filter":"datum.p == 'V0'"}],"mark":{"type":"line","interpolate":"step-after","strokeWidth":1}},
    {"data":{"name":"cens"},"transform":[{"filter":"datum.p == 'V0'"}],"mark":{"type":"point","shape":"M-1,0H1M0,-1V1","filled":false,"size":25,"strokeWidth":1}}]},
  {"width":57,"height":101,"view":{"stroke":"black"},
   "title":{"text":"Value in 6 M","subtitle":"p = 0.665"},
   "encoding":{
    "x":{"field":"t","type":"quantitative","scale":{"domain":[0,3000],"nice":false},"axis":{"values":[0,500,1000,1500,2000,2500,3000],"format":"d","labelExpr":"indexof([0,1000,2500], datum.value) >= 0 ? datum.label : ''","title":["N1 = 76, N2 = 124","Days from baseline"]}},
    "y":{"field":"s","type":"quantitative","scale":{"domain":[-0.04,1.04],"nice":false},"axis":{"values":[0,0.2,0.4,0.6,0.8,1],"format":".1f","title":"Survival probability"}},
    "stroke":{"field":"g","type":"nominal","scale":{"domain":["lo","hi"],"range":["#0000FF","#FF00FF"]},"legend":null}},
   "layer":[
    {"data":{"name":"steps"},"transform":[{"filter":"datum.p == 'V6'"}],"mark":{"type":"line","interpolate":"step-after","strokeWidth":1}},
    {"data":{"name":"cens"},"transform":[{"filter":"datum.p == 'V6'"}],"mark":{"type":"point","shape":"M-1,0H1M0,-1V1","filled":false,"size":25,"strokeWidth":1}}]},
  {"width":57,"height":101,"view":{"stroke":"black"},
   "title":{"text":"Value in 12 M","subtitle":"p = 0.002","subtitleColor":"#FF0000"},
   "encoding":{
    "x":{"field":"t","type":"quantitative","scale":{"domain":[0,3000],"nice":false},"axis":{"values":[0,500,1000,1500,2000,2500,3000],"format":"d","labelExpr":"indexof([0,1000,2500], datum.value) >= 0 ? datum.label : ''","title":["N1 = 73, N2 = 127","Days from baseline"]}},
    "y":{"field":"s","type":"quantitative","scale":{"domain":[-0.04,1.04],"nice":false},"axis":{"values":[0,0.2,0.4,0.6,0.8,1],"format":".1f","title":"Survival probability"}},
    "stroke":{"field":"g","type":"nominal","scale":{"domain":["lo","hi"],"range":["#0000FF","#FF00FF"]},"legend":null}},
   "layer":[
    {"data":{"name":"steps"},"transform":[{"filter":"datum.p == 'V12'"}],"mark":{"type":"line","interpolate":"step-after","strokeWidth":1}},
    {"data":{"name":"cens"},"transform":[{"filter":"datum.p == 'V12'"}],"mark":{"type":"point","shape":"M-1,0H1M0,-1V1","filled":false,"size":25,"strokeWidth":1}}]},
  {"width":57,"height":101,"view":{"stroke":"black"},
   "title":{"text":"Value in 24 M","subtitle":"p = 0.001","subtitleColor":"#FF0000"},
   "encoding":{
    "x":{"field":"t","type":"quantitative","scale":{"domain":[0,3000],"nice":false},"axis":{"values":[0,500,1000,1500,2000,2500,3000],"format":"d","labelExpr":"indexof([0,1000,2500], datum.value) >= 0 ? datum.label : ''","title":["N1 = 78, N2 = 125","Days from baseline"]}},
    "y":{"field":"s","type":"quantitative","scale":{"domain":[-0.04,1.04],"nice":false},"axis":{"values":[0,0.2,0.4,0.6,0.8,1],"format":".1f","title":"Survival probability"}},
    "stroke":{"field":"g","type":"nominal","scale":{"domain":["lo","hi"],"range":["#0000FF","#FF00FF"]},"legend":null}},
   "layer":[
    {"data":{"name":"steps"},"transform":[{"filter":"datum.p == 'V24'"}],"mark":{"type":"line","interpolate":"step-after","strokeWidth":1}},
    {"data":{"name":"cens"},"transform":[{"filter":"datum.p == 'V24'"}],"mark":{"type":"point","shape":"M-1,0H1M0,-1V1","filled":false,"size":25,"strokeWidth":1}}]},
  {"width":57,"height":101,"view":{"stroke":"black"},
   "title":{"text":"Value in 36 M","subtitle":"p = 0.009","subtitleColor":"#FF0000"},
   "encoding":{
    "x":{"field":"t","type":"quantitative","scale":{"domain":[0,3000],"nice":false},"axis":{"values":[0,500,1000,1500,2000,2500,3000],"format":"d","labelExpr":"indexof([0,1000,2500], datum.value) >= 0 ? datum.label : ''","title":["N1 = 106, N2 = 91","Days from baseline"]}},
    "y":{"field":"s","type":"quantitative","scale":{"domain":[-0.04,1.04],"nice":false},"axis":{"values":[0,0.2,0.4,0.6,0.8,1],"format":".1f","title":"Survival probability"}},
    "stroke":{"field":"g","type":"nominal","scale":{"domain":["lo","hi"],"range":["#0000FF","#FF00FF"]},"legend":null}},
   "layer":[
    {"data":{"name":"steps"},"transform":[{"filter":"datum.p == 'V36'"}],"mark":{"type":"line","interpolate":"step-after","strokeWidth":1}},
    {"data":{"name":"cens"},"transform":[{"filter":"datum.p == 'V36'"}],"mark":{"type":"point","shape":"M-1,0H1M0,-1V1","filled":false,"size":25,"strokeWidth":1}}]},
  {"width":57,"height":101,"view":{"stroke":"black"},
   "title":{"text":"Value in 48 M","subtitle":"p = 0.113"},
   "encoding":{
    "x":{"field":"t","type":"quantitative","scale":{"domain":[0,3000],"nice":false},"axis":{"values":[0,500,1000,1500,2000,2500,3000],"format":"d","labelExpr":"indexof([0,1000,2500], datum.value) >= 0 ? datum.label : ''","title":["N1 = 140, N2 = 41","Days from baseline"]}},
    "y":{"field":"s","type":"quantitative","scale":{"domain":[-0.04,1.04],"nice":false},"axis":{"values":[0,0.2,0.4,0.6,0.8,1],"format":".1f","title":"Survival probability"}},
    "stroke":{"field":"g","type":"nominal","scale":{"domain":["lo","hi"],"range":["#0000FF","#FF00FF"]},"legend":null}},
   "layer":[
    {"data":{"name":"steps"},"transform":[{"filter":"datum.p == 'V48'"}],"mark":{"type":"line","interpolate":"step-after","strokeWidth":1}},
    {"data":{"name":"cens"},"transform":[{"filter":"datum.p == 'V48'"}],"mark":{"type":"point","shape":"M-1,0H1M0,-1V1","filled":false,"size":25,"strokeWidth":1}}]}
 ]
}
]
}
